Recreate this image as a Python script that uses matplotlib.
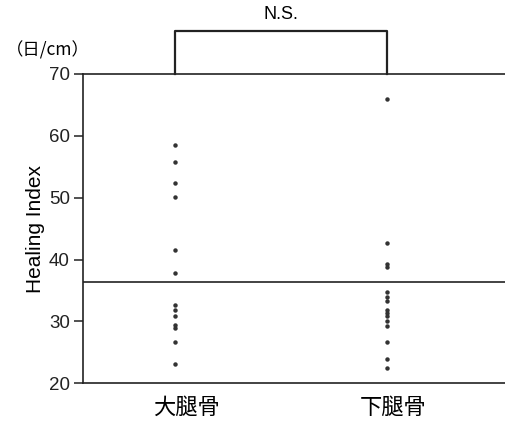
import numpy as np
import matplotlib.pyplot as plt

plt.rcParams['font.family'] = ['Liberation Sans', 'Noto Sans CJK JP', 'DejaVu Sans']

groups = ['大腿骨', '下腿骨']
femur = [58.6, 55.8, 52.3, 50.1, 41.6, 37.9, 32.7, 31.8, 30.8, 29.5, 28.9, 26.6, 23.1]
tibia = [65.9, 42.7, 39.3, 38.8, 34.8, 33.9, 33.3, 31.8, 31.4, 30.8, 30.1, 29.2, 26.7, 24.0, 22.4]
mean_line = 36.3
yticks = [20, 30, 40, 50, 60, 70]

fig = plt.figure(figsize=(5.05, 4.22), dpi=100)
ax = fig.add_axes([83 / 505, 38.7 / 422, 422 / 505, 309.3 / 422])

dot_color = '#333333'
for i, vals in enumerate([femur, tibia]):
    ax.plot(np.full(len(vals), i), vals, 'o', ms=3.2, color=dot_color, mec='none')

ax.axhline(mean_line, color='#222222', lw=1.2)

ax.set_xlim(-0.434, 1.557)
ax.set_ylim(20, 70)
ax.set_yticks(yticks)
# labels sit a little right of the dot columns in the original
ax.set_xticks([0.052, 1.027])
ax.set_xticklabels(groups, fontsize=16, family=['Noto Sans CJK JP'])
ax.tick_params(axis='x', length=0, pad=9)
ax.tick_params(axis='y', length=6.5, width=1.1, labelsize=13.5, pad=3, colors='#222222')

for s in ['left', 'top', 'bottom']:
    ax.spines[s].set_linewidth(1.2)
    ax.spines[s].set_color('#222222')
ax.spines['right'].set_visible(False)

ax.set_ylabel('Healing Index', fontsize=15, labelpad=3)

# bracket
ax.plot([0, 0, 1, 1], [70, 77, 77, 70], color='#222222', lw=1.6, clip_on=False)
ax.text(0.5, 79.6, 'N.S.', ha='center', va='center', fontsize=13)

fig.text(48 / 505, 1 - 50 / 422, '（日/cm）', ha='center', va='center', fontsize=12.5,
         family=['Noto Sans CJK JP', 'DejaVu Sans'])

fig.savefig('out.png', dpi=100)
